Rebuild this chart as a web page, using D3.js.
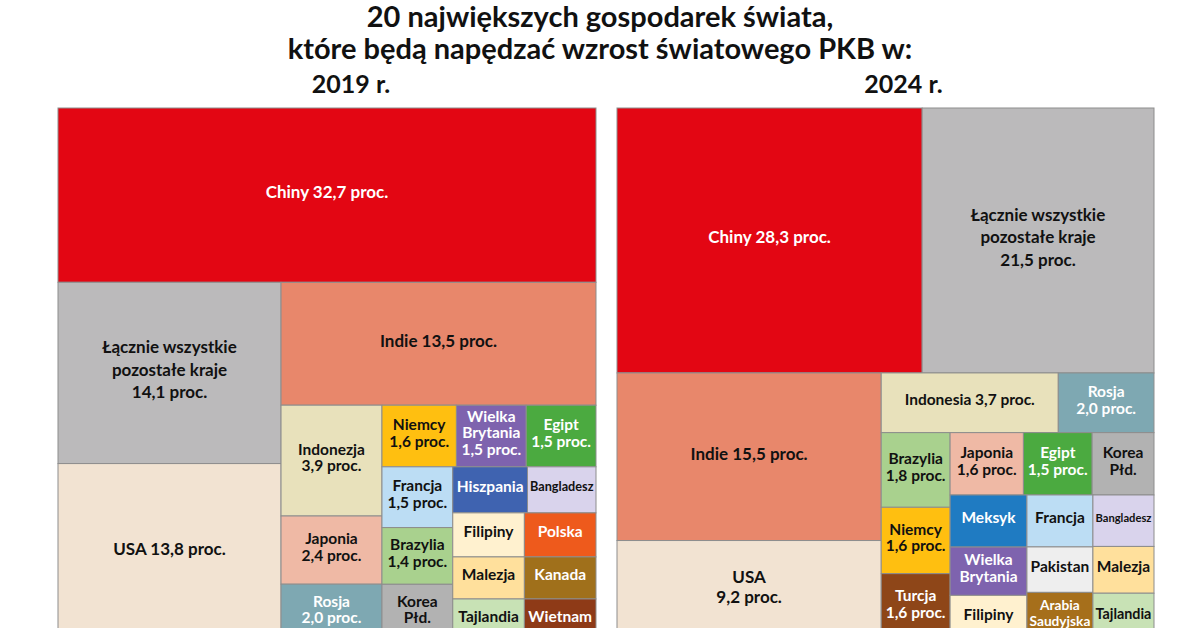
<!DOCTYPE html>
<html><head><meta charset="utf-8">
<script src="https://cdn.jsdelivr.net/npm/d3@7"></script>
<style>body{margin:0;background:#fff}svg{display:block}</style>
</head><body>
<svg id="chart" width="1200" height="628"></svg>
<script>
// ---------- data: 2019 ----------
const names2019 = ["Chiny","Łącznie","USA","Indie","Indonezja","Japonia","Rosja","Niemcy","Wielka Brytania","Egipt",
  "Francja","Brazylia","Korea Płd.","Hiszpania","Bangladesz","Filipiny","Polska","Malezja","Kanada","Tajlandia","Wietnam"];
const values2019 = [32.7,14.1,13.8,13.5,3.9,2.4,2.0,1.6,1.5,1.5,1.5,1.4,1.4,1.2,1.1,1.1,1.1,1.05,1.05,1.05,1.05];
const labels2019 = [["Chiny 32,7 proc."],["Łącznie wszystkie","pozostałe kraje","14,1 proc."],["USA 13,8 proc."],["Indie 13,5 proc."],
  ["Indonezja","3,9 proc."],["Japonia","2,4 proc."],["Rosja","2,0 proc."],["Niemcy","1,6 proc."],["Wielka","Brytania","1,5 proc."],
  ["Egipt","1,5 proc."],["Francja","1,5 proc."],["Brazylia","1,4 proc."],["Korea","Płd."],["Hiszpania"],["Bangladesz"],
  ["Filipiny"],["Polska"],["Malezja"],["Kanada"],["Tajlandia"],["Wietnam"]];
const colors2019 = ["#E30613","#BBBABB","#F2E3D2","#E8876B","#E8E1BB","#EFB9A5","#7EA8B2","#FFBF10","#7E63AE","#4BAA40",
  "#BCDDF4","#A9D18E","#B2B2B2","#3F63B0","#D9D3EC","#FFF1CF","#EE5A1C","#FFE09C","#A0701B","#C8E2B5","#8E3A17"];
const textWhite2019 = ["Chiny","Rosja","Wielka Brytania","Egipt","Hiszpania","Polska","Kanada","Wietnam"];
// nesting of the 2019 treemap: "v" = stacked rows, "h" = side by side
const nest2019 = ["v","Chiny",["h",["v","Łącznie","USA"],["v","Indie",["h",["v","Indonezja","Japonia","Rosja"],
  ["v",["h","Niemcy","Wielka Brytania","Egipt"],["h",["v","Francja","Brazylia","Korea Płd."],
  ["v",["h","Hiszpania","Bangladesz"],["h","Filipiny","Polska"],["h","Malezja","Kanada"],["h","Tajlandia","Wietnam"]]]]]]]];

// ---------- data: 2024 ----------
const names2024 = ["Chiny","Łącznie","Indie","USA","Indonesia","Rosja","Brazylia","Niemcy","Turcja","Japonia","Egipt","Korea Płd.",
  "Meksyk","Wielka Brytania","Filipiny","Francja","Pakistan","Arabia Saudyjska","Bangladesz","Malezja","Tajlandia"];
const values2024 = [28.3,21.5,15.5,9.2,3.7,2.0,1.8,1.6,1.6,1.6,1.5,1.35,1.4,1.3,1.2,1.2,1.05,1.1,1.1,1.0,1.0];
const labels2024 = [["Chiny 28,3 proc."],["Łącznie wszystkie","pozostałe kraje","21,5 proc."],["Indie 15,5 proc."],["USA","9,2 proc."],
  ["Indonesia 3,7 proc."],["Rosja","2,0 proc."],["Brazylia","1,8 proc."],["Niemcy","1,6 proc."],["Turcja","1,6 proc."],
  ["Japonia","1,6 proc."],["Egipt","1,5 proc."],["Korea","Płd."],["Meksyk"],["Wielka","Brytania"],["Filipiny"],["Francja"],
  ["Pakistan"],["Arabia","Saudyjska"],["Bangladesz"],["Malezja"],["Tajlandia"]];
const colors2024 = ["#E30613","#BBBABB","#E8876B","#F2E3D2","#E8E1BB","#7EA8B2","#A9D18E","#FFBF10","#8E4618","#EFB9A5","#4BAA40","#B2B2B2",
  "#1F7BC2","#7E63AE","#FFF1CF","#BCDDF4","#EEEEEE","#A66F1B","#D9D3EC","#FFE09C","#C8E2B5"];
const textWhite2024 = ["Chiny","Rosja","Turcja","Egipt","Meksyk","Wielka Brytania","Arabia Saudyjska"];
const nest2024 = ["v",["h","Chiny","Łącznie"],["h",["v","Indie","USA"],["v",["h","Indonesia","Rosja"],
  ["h",["v","Brazylia","Niemcy","Turcja"],["v",["h","Japonia","Egipt","Korea Płd."],
  ["h",["v","Meksyk","Wielka Brytania","Filipiny"],["v","Francja","Pakistan","Arabia Saudyjska"],["v","Bangladesz","Malezja","Tajlandia"]]]]]]];

const titleLines = ["20 największych gospodarek świata,","które będą napędzać wzrost światowego PKB w:"];
const yearLabels = ["2019 r.","2024 r."];

// ---------- drawing ----------
const svg = d3.select("#chart");
const FONT = "Lato, 'Open Sans', sans-serif";

svg.append("g").selectAll("text").data(titleLines).join("text")
  .attr("x", 600).attr("y", (d,i) => 27 + i*32)
  .attr("text-anchor","middle").attr("font-family",FONT).attr("font-weight",700)
  .attr("font-size",29).attr("fill","#111").text(d => d);

function buildTree(spec, names, values, labels, colors, whites){
  if (typeof spec === "string"){
    const i = names.indexOf(spec);
    return {name: spec, value: values[i], label: labels[i], color: colors[i], white: whites.includes(spec)};
  }
  return {dir: spec[0], children: spec.slice(1).map(s => buildTree(s, names, values, labels, colors, whites))};
}

function drawTreemap(cfg){
  const data = buildTree(cfg.nest, cfg.names, cfg.values, cfg.labels, cfg.colors, cfg.whites);
  const root = d3.hierarchy(data).sum(d => d.children ? 0 : d.value);
  d3.treemap()
    .size([cfg.w, cfg.h])
    .tile((node,x0,y0,x1,y1) => (node.data.dir === "h" ? d3.treemapDice : d3.treemapSlice)(node,x0,y0,x1,y1))
    (root);
  const g = svg.append("g").attr("transform", `translate(${cfg.x},${cfg.y})`);
  g.append("text").attr("x", cfg.w/2 + cfg.yearShift).attr("y", -15).attr("text-anchor","middle")
    .attr("font-family",FONT).attr("font-weight",700).attr("font-size",25).attr("fill","#111").text(cfg.year);
  const leaves = root.leaves();
  const cell = g.selectAll("g.cell").data(leaves).join("g").attr("class","cell")
    .attr("transform", d => `translate(${d.x0},${d.y0})`);
  cell.append("rect").attr("width", d => d.x1 - d.x0).attr("height", d => d.y1 - d.y0)
    .attr("fill", d => d.data.color).attr("stroke","#8d8d8d").attr("stroke-width",1);
  cell.each(function(d){
    const w = d.x1 - d.x0, h = d.y1 - d.y0;
    const big = d.data.value >= 9;
    const n = d.data.label.length;
    let fs = big ? 17 : 15.5;
    const lh = n > 2 && big ? 1.32 : (big ? 1.15 : 1.08);
    const t = d3.select(this).append("text")
      .attr("text-anchor","middle").attr("font-family",FONT).attr("font-weight",700)
      .attr("font-size",fs).attr("fill", d.data.white ? "#fff" : "#111");
    d.data.label.forEach((line,i) => {
      t.append("tspan").attr("x", w/2).attr("y", h/2 + (i - (n-1)/2)*fs*lh + fs*0.35 - 3).text(line);
    });
    const bw = t.node().getBBox().width;
    if (bw > w - 5){
      const f2 = fs * (w - 5) / bw;
      t.attr("font-size", f2);
      t.selectAll("tspan").attr("y", (s,i) => h/2 + (i - (n-1)/2)*fs*lh + f2*0.35 - 3);
    }
  });
}

drawTreemap({nest: nest2019, names: names2019, values: values2019, labels: labels2019, colors: colors2019,
  whites: textWhite2019, x: 58, y: 108, w: 538, h: 533, year: yearLabels[0], yearShift: 24});
drawTreemap({nest: nest2024, names: names2024, values: values2024, labels: labels2024, colors: colors2024,
  whites: textWhite2024, x: 617, y: 108, w: 537, h: 532, year: yearLabels[1], yearShift: 18});
</script>
</body></html>
